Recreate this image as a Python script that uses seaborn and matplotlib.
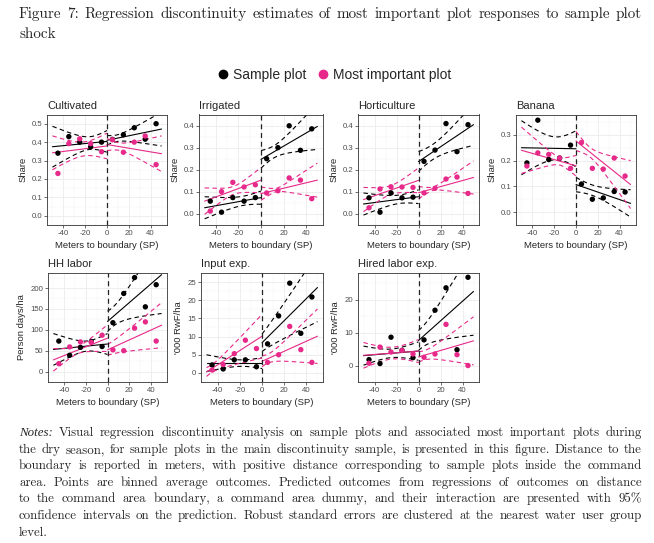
import numpy as np
import pandas as pd
import matplotlib
matplotlib.use("Agg")
import matplotlib.pyplot as plt
from matplotlib.lines import Line2D
import seaborn as sns

# Binned distance to the boundary (m)
bins = [-45, -35, -25, -15, -5, 5, 15, 25, 35, 45]

# Binned means: sample plot / most important plot
cult_sample = [0.34, 0.43, 0.40, 0.374, 0.40, 0.415, 0.44, 0.478, 0.416, 0.50]
cult_main = [0.23, 0.392, 0.418, 0.392, 0.348, 0.413, 0.345, 0.40, 0.433, 0.278]
irr_sample = [0.058, 0.008, 0.074, 0.058, 0.074, 0.25, 0.30, 0.399, 0.288, 0.385]
irr_main = [0.013, 0.101, 0.143, 0.122, 0.132, 0.095, 0.105, 0.163, 0.153, 0.069]
hort_sample = [0.073, 0.008, 0.095, 0.073, 0.076, 0.238, 0.289, 0.409, 0.282, 0.404]
hort_main = [0.028, 0.113, 0.123, 0.122, 0.12, 0.095, 0.116, 0.158, 0.167, 0.093]
ban_sample = [0.191, 0.357, 0.204, 0.21, 0.26, 0.109, 0.05, 0.055, 0.08, 0.078]
ban_main = [0.179, 0.23, 0.224, 0.21, 0.17, 0.27, 0.17, 0.167, 0.21, 0.14]
hh_sample = [73, 39, 58, 72, 60, 117, 187, 225, 155, 208]
hh_main = [19, 59, 71, 70, 87, 52, 50, 104, 119, 73]
inp_sample = [2.2, 1.1, 3.6, 3.6, 1.7, 8.0, 15.7, 24.7, 10.9, 20.9]
inp_main = [0.8, 2.3, 5.3, 9.0, 6.7, 2.9, 5.0, 12.8, 6.4, 2.9]
hir_sample = [1.8, 0.6, 8.6, 4.6, 2.4, 7.8, 16.8, 23.6, 4.8, 26.8]
hir_main = [0.7, 5.6, 4.1, 4.6, 3.5, 2.5, 3.5, 12.5, 3.3, 0.0]

# Fitted values at x = -50, 0 (left side), 0, 50 (right side)
# and 95% CI half widths at x = -50, -25, 0 (left) and 0, 25, 50 (right)
cult_fit_s = [0.375, 0.404, 0.41, 0.471]
cult_ci_s = [0.111, 0.045, 0.059, 0.026, 0.04, 0.092]
cult_fit_m = [0.342, 0.379, 0.387, 0.337]
cult_ci_m = [0.092, 0.04, 0.07, 0.033, 0.04, 0.097]
irr_fit_s = [0.028, 0.074, 0.247, 0.396]
irr_ci_s = [0.05, 0.024, 0.03, 0.04, 0.045, 0.104]
irr_fit_m = [0.058, 0.153, 0.092, 0.153]
irr_ci_m = [0.06, 0.018, 0.057, 0.03, 0.025, 0.077]
hort_fit_s = [0.045, 0.078, 0.237, 0.404]
hort_ci_s = [0.05, 0.022, 0.031, 0.045, 0.045, 0.094]
hort_fit_m = [0.065, 0.152, 0.096, 0.165]
hort_ci_m = [0.055, 0.02, 0.056, 0.028, 0.025, 0.075]
ban_fit_s = [0.25, 0.246, 0.107, 0.034]
ban_ci_s = [0.105, 0.049, 0.07, 0.028, 0.025, 0.053]
ban_fit_m = [0.24, 0.18, 0.276, 0.107]
ban_ci_m = [0.09, 0.03, 0.04, 0.037, 0.035, 0.093]
hh_fit_s = [53, 66, 120, 232]
hh_ci_s = [38, 14, 25, 24.5, 47, 93]
hh_fit_m = [28, 80, 52, 111]
hh_ci_m = [27, 9, 32, 13, 31, 54]
inp_fit_s = [2.7, 2.7, 8.3, 23.5]
inp_ci_s = [2.3, 1.0, 1.5, 2.4, 5.6, 9.4]
inp_fit_m = [0.25, 10.1, 3.2, 10.1]
inp_ci_m = [1.2, 2.9, 6.0, 1.5, 3.5, 7.5]
hir_fit_s = [3.0, 4.4, 7.6, 22.5]
hir_ci_s = [2.9, 1.3, 2.8, 3.05, 7.0, 13.3]
hir_fit_m = [3.1, 4.4, 2.6, 7.5]
hir_ci_m = [3.9, 1.8, 3.5, 1.6, 3.5, 7.3]

share_ticks = [0.0, 0.1, 0.2, 0.3, 0.4, 0.5]
xticks = [-40, -20, 0, 20, 40]

PINK = "#E7298A"
W, H = 654, 543

sns.set_theme(style="white")
sans = ["Liberation Sans", "DejaVu Sans"]
serif = ["cmr10", "DejaVu Serif"]
plt.rcParams["font.family"] = sans
plt.rcParams["axes.unicode_minus"] = False

fig = plt.figure(figsize=(W / 100, H / 100), dpi=100)
fig.patch.set_facecolor("white")


def px_axes(left, right, top, bottom):
    return fig.add_axes([left / W, 1 - bottom / H, (right - left) / W, (bottom - top) / H])


def ci_curve(xs, hw, grid):
    coef = np.polyfit(xs, np.array(hw) ** 2, 2)
    return np.sqrt(np.clip(np.polyval(coef, grid), 1e-12, None))


def draw_fit(ax, fit, ci, color):
    for side in range(2):
        xs = [-50, -25, 0] if side == 0 else [0, 25, 50]
        grid = np.linspace(xs[0], xs[-1], 80)
        y0, y1 = fit[2 * side], fit[2 * side + 1]
        mid = y0 + (y1 - y0) * (grid - xs[0]) / 50.0
        hw = ci_curve(xs, ci[3 * side:3 * side + 3], grid)
        ax.plot(grid, mid, color=color, lw=0.8, zorder=2)
        for sgn in (1, -1):
            ax.plot(grid, mid + sgn * hw, color=color, lw=0.8,
                    linestyle=(0, (4, 3)), zorder=2)


def panel(box, title, ylabel, sample, main, fit_s, ci_s, fit_m, ci_m, ylim, yticks, yfmt):
    ax = px_axes(*box)
    ax.set_facecolor("white")
    ax.set_xlim(-55, 55)
    ax.set_ylim(*ylim)
    ax.set_xticks(xticks)
    ax.set_xticklabels([str(t) for t in xticks])
    ax.set_xticks([-50, -30, -10, 10, 30, 50], minor=True)
    ax.set_yticks(yticks)
    ax.set_yticklabels([yfmt.format(t) for t in yticks])
    step = yticks[1] - yticks[0]
    ax.set_yticks([t + step / 2 for t in [yticks[0] - step] + list(yticks)], minor=True)
    ax.grid(True, which="major", color="#EBEBEB", lw=0.6, zorder=0)
    ax.grid(True, which="minor", color="#F3F3F3", lw=0.35, zorder=0)
    ax.set_axisbelow(True)
    for sp in ax.spines.values():
        sp.set_color("#333333")
        sp.set_linewidth(0.6)
    ax.tick_params(which="major", length=2, width=0.5, color="#333333",
                   labelsize=5.6, labelcolor="#4D4D4D", pad=1.5,
                   bottom=True, left=True)
    ax.tick_params(which="minor", length=0)

    draw_fit(ax, fit_s, ci_s, "black")
    draw_fit(ax, fit_m, ci_m, PINK)
    ax.axvline(0, color="#222222", lw=0.9, linestyle=(0, (4, 3)), zorder=2.5)

    df = pd.DataFrame({
        "dist": bins + bins,
        "value": list(sample) + list(main),
        "plot": ["Sample plot"] * len(bins) + ["Most important plot"] * len(bins),
    })
    sns.scatterplot(data=df, x="dist", y="value", hue="plot",
                    palette={"Sample plot": "black", "Most important plot": PINK},
                    s=15, edgecolor="none", legend=False, ax=ax, zorder=3)
    ax.set_xlabel("Meters to boundary (SP)", fontsize=6.8, labelpad=3)
    ax.set_ylabel(ylabel, fontsize=6.8, labelpad=3)
    ax.set_title(title, fontsize=8, loc="left", pad=4)
    return ax


panel((47, 167, 114.5, 225), "Cultivated", "Share", cult_sample, cult_main,
      cult_fit_s, cult_ci_s, cult_fit_m, cult_ci_m, (-0.025, 0.535), share_ticks, "{:.1f}")
panel((199, 323, 114.5, 225), "Irrigated", "Share", irr_sample, irr_main,
      irr_fit_s, irr_ci_s, irr_fit_m, irr_ci_m, (-0.023, 0.423), share_ticks[:5], "{:.1f}")
panel((358, 479, 114.5, 225), "Horticulture", "Share", hort_sample, hort_main,
      hort_fit_s, hort_ci_s, hort_fit_m, hort_ci_m, (-0.02, 0.434), share_ticks[:5], "{:.1f}")
panel((516, 636, 114.5, 225), "Banana", "Share", ban_sample, ban_main,
      ban_fit_s, ban_ci_s, ban_fit_m, ban_ci_m, (-0.02, 0.379), share_ticks[:4], "{:.1f}")
panel((48, 167, 273, 382), "HH labor", "Person days/ha", hh_sample, hh_main,
      hh_fit_s, hh_ci_s, hh_fit_m, hh_ci_m, (-12, 236), [0, 50, 100, 150, 200], "{:d}")
panel((201, 323, 273, 382), "Input exp.", "'000 RwF/ha", inp_sample, inp_main,
      inp_fit_s, inp_ci_s, inp_fit_m, inp_ci_m, (-1.26, 25.9), [0, 5, 10, 15, 20, 25], "{:d}")
panel((358, 479, 273, 382), "Hired labor exp.", "'000 RwF/ha", hir_sample, hir_main,
      hir_fit_s, hir_ci_s, hir_fit_m, hir_ci_m, (-1.6, 28.1), [0, 10, 20], "{:d}")

# Shared legend
handles = [Line2D([], [], marker="o", linestyle="none", color=c, markersize=6)
           for c in ("black", PINK)]
fig.legend(handles, ["Sample plot", "Most important plot"], loc="center",
           bbox_to_anchor=(333 / W, 1 - 75 / H), ncol=2, frameon=False,
           fontsize=10, handletextpad=0.1, columnspacing=0.6, handlelength=1.2)

# Caption and notes, word by word so the lines can be justified
renderer = fig.canvas.get_renderer()
X0, X1 = 19, 642

title_lines = [
    "Figure 7: Regression discontinuity estimates of most important plot responses to sample plot",
    "shock",
]
notes_lines = [
    "Notes: Visual regression discontinuity analysis on sample plots and associated most important plots during",
    "the dry season, for sample plots in the main discontinuity sample, is presented in this figure. Distance to the",
    "boundary is reported in meters, with positive distance corresponding to sample plots inside the command",
    "area. Points are binned average outcomes. Predicted outcomes from regressions of outcomes on distance",
    "to the command area boundary, a command area dummy, and their interaction are presented with 95%",
    "confidence intervals on the prediction. Robust standard errors are clustered at the nearest water user group",
    "level.",
]


def word_style(w):
    if w == "Notes:":
        return dict(family=["Liberation Serif"], style="italic")
    return dict(family=serif)


def natural_width(line, size):
    t = fig.text(0, 0, line, fontsize=size, family=serif)
    w = t.get_window_extent(renderer).width
    t.remove()
    return w


def put_line(line, base_px, size, justify=True):
    # integer baseline keeps every word on the same pixel row
    y = 1 - round(base_px) / H
    words = line.split(" ")
    items = [fig.text(0, y, w, fontsize=size, va="baseline", **word_style(w)) for w in words]
    widths = [t.get_window_extent(renderer).width for t in items]
    if justify and len(items) > 1:
        gap = (X1 - X0 - sum(widths)) / (len(items) - 1)
    else:
        gap = size * 100 / 72 * 0.333
    x = X0
    for t, w in zip(items, widths):
        t.set_x(x / W)
        x += w + gap


# font size so that the widest justified line just fits at normal spacing
ref = 10.0
widest = max(natural_width(l, ref) for l in notes_lines[:-1])
notes_size = ref * (X1 - X0) / widest * 0.985
title_size = min(notes_size * 1.2, ref * (X1 - X0) / natural_width(title_lines[0], ref) * 0.99)

put_line(title_lines[0], 18, title_size)
put_line(title_lines[1], 38, title_size, justify=False)
for i, line in enumerate(notes_lines):
    put_line(line, 436 + i * 16.6, notes_size, justify=(i < len(notes_lines) - 1))

fig.savefig("out.png", dpi=100, facecolor="white")
